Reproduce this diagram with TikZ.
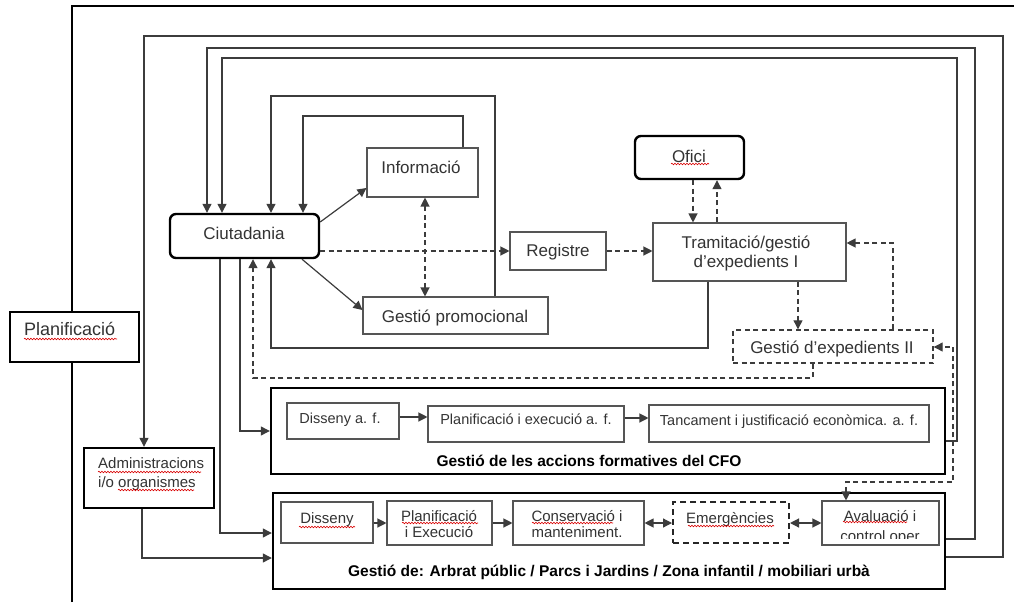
\documentclass[tikz,border=0pt]{standalone}
\usepackage{fontspec}
\setmainfont{Liberation Sans}
\usetikzlibrary{arrows.meta,decorations.pathmorphing,calc}
\definecolor{txt}{HTML}{333333}
\definecolor{bord}{HTML}{555555}
\definecolor{ln}{HTML}{3C3C3C}
\newcommand\fsz[1]{\fontsize{#1}{#1}\selectfont}
\newcommand\bx[6]{\node[#6, minimum width={(#4)-(#2)}, minimum height={(#5)-(#3)}] (#1) at ({((#2)+(#4))/2},{((#3)+(#5))/2}) {};}
\begin{document}
\begin{tikzpicture}[x=1pt,y=-1pt,
 thinbox/.style={draw=bord,line width=1.1pt,fill=white,inner sep=0pt},
 thickbox/.style={draw=black,line width=2.4pt,fill=white,inner sep=0pt},
 roundbox/.style={thickbox,rounded corners=6pt},
 dashbox/.style={thinbox,draw=ln,line width=1.4pt,dash pattern=on 5pt off 3.5pt},
 emerbox/.style={thinbox,draw=black!85,line width=2pt,dash pattern=on 6pt off 4pt},
 lbl/.style={anchor=base,inner sep=0pt,text=txt,font=\fsz{17}},
 lbls/.style={lbl,font=\fsz{14.5}},
 lblm/.style={lbl,font=\fsz{15}},
 lblb/.style={lbl,text=black,font=\fsz{15.5}\bfseries},
 conn/.style={draw=ln,line width=1.2pt},
 arr/.style={conn,-{Triangle[length=9pt,width=9pt]}},
 darr/.style={arr,dash pattern=on 5pt off 3.5pt},
 dbl/.style={conn,{Triangle[length=9pt,width=9pt]}-{Triangle[length=9pt,width=9pt]}},
 ddbl/.style={dbl,dash pattern=on 5pt off 3.5pt},
 frame/.style={draw=black,line width=2.6pt,line join=miter},
 squig/.style={draw=red!85!black,line width=0.6pt,decorate,decoration={snake,amplitude=0.8pt,segment length=3pt}}]
\useasboundingbox (0,0) rectangle (1014,602);

% outer frame
\draw[frame] (72,602) -- (72,6) -- (1014,6);

% boxes
\bx{plan}{10}{312}{139}{362}{thickbox}
\bx{ciut}{170}{214}{319}{258}{roundbox}
\bx{info}{367}{148}{478}{197}{thinbox}
\bx{gprom}{363}{297}{548}{334}{thinbox}
\bx{reg}{510}{232}{606}{270}{thinbox}
\bx{ofici}{635}{136}{744}{179}{roundbox}
\bx{tram}{653}{223}{846}{281}{thinbox}
\bx{gest2}{733}{330}{933}{363}{dashbox}
\bx{admin}{84}{448}{214}{508}{thickbox}
\bx{cfo}{271}{388}{945}{474}{thickbox}
\bx{dis1}{287}{403}{399}{439}{thinbox}
\bx{pla1}{428}{406}{624}{442}{thinbox}
\bx{tanc}{649}{405}{929}{442}{thinbox}
\bx{gbot}{273}{493}{945}{589}{thickbox}
\bx{dis2}{281}{502}{373}{543}{thinbox}
\bx{pla2}{387}{501}{492}{545}{thinbox}
\bx{cons}{513}{501}{644}{545}{thinbox}
\bx{emer}{673}{502}{789}{543}{emerbox}
\bx{aval}{822}{501}{939}{545}{thinbox}

% texts
\node[lbl,anchor=base west,font=\fsz{18}] (t-plan) at (24,335) {Planificació};
\node[lbl] (t-ciut) at (244,239) {Ciutadania};
\node[lbl] (t-info) at (421,173) {Informació};
\node[lbl] (t-gprom) at (455,322) {Gestió promocional};
\node[lbl] (t-reg) at (558,256) {Registre};
\node[lbl] (t-ofici) at (689,162) {Ofici};
\node[lbl] (t-tram1) at (746,248) {Tramitació/gestió};
\node[lbl] (t-tram2) at (746,267) {d’expedients I};
\node[lbl] (t-gest2) at (832,353) {Gestió d’expedients II};
\node[lblm,anchor=base west] (t-adm1) at (98,468) {Administracions};
\node[lblm,anchor=base west] (t-adm2) at (98,487) {i/o organismes};
\node[lbls] (t-dis1) at (340,423) {Disseny a. f.};
\node[lbls] (t-pla1) at (526,424) {Planificació i execució a. f.};
\node[lbls] (t-tanc) at (789,425) {Tancament i justificació econòmica. a. f.};
\node[lblb] (t-cfo) at (589,466) {Gestió de les accions formatives del CFO};
\node[lblm] (t-dis2) at (327,523) {Disseny};
\node[lblm] (t-pla2a) at (439,521) {Planificació};
\node[lblm] (t-pla2b) at (439,537) {i Execució};
\node[lblm] (t-cons1) at (577,521) {Conservació i};
\node[lblm] (t-cons2) at (577,537) {manteniment.};
\node[lblm] (t-emer) at (730,523) {Emergències};
\node[lblm] (t-aval1) at (880,521) {Avaluació i};
\begin{scope}
\clip (822,501) rectangle (939,538);
\node[lblm] (t-aval2) at (880,541) {control oper};
\end{scope}
\node[lblb] (t-gbot) at (609,576) {Gestió de: Arbrat públic / Parcs i Jardins / Zona infantil / mobiliari urbà};

% spell-check underlines
\draw[squig] (24,339) -- (117,339);
\draw[squig] (671,164) -- (709,164);
\draw[squig] (98,472) -- (201,472);
\draw[squig] (118,490) -- (194,490);
\draw[squig] (299,527) -- (355,527);
\draw[squig] (402,523) -- (478,523);
\draw[squig] (532,523) -- (613,523);
\draw[squig] (688,526) -- (774,526);
\draw[squig] (843,522) -- (907,522);

% long feedback loops
\draw[arr] (gbot.east |- 0,557) -| (1003,36) -| (admin.north -| 144,0);
\draw[arr] (gbot.east |- 0,539) -| (975,48) -| (ciut.north -| 207,0);
\draw[arr] (cfo.east |- 0,441) -| (957,58) -| (ciut.north -| 222,0);
\draw[arr] (gprom.north -| 495,0) |- (271,96) -- (ciut.north -| 271,0);
\draw[arr] (info.north -| 463,0) |- (303,116) -- (ciut.north -| 303,0);
\draw[arr] (tram.south -| 708,0) |- (271,348) -- (ciut.south -| 271,0);
\draw[darr] (gest2.south -| 813,0) |- (253,378) -- (ciut.south -| 253,0);

% from Ciutadania / Administracions down
\draw[arr] (ciut.south -| 220,0) |- (gbot.west |- 0,533);
\draw[arr] (ciut.south -| 240,0) |- (cfo.west |- 0,431);
\draw[arr] (admin.south -| 142,0) |- (gbot.west |- 0,558);

% upper flow
\draw[arr] (ciut.east |- 0,222) -- (info.west |- 0,188);
\draw[arr] (ciut.south -| 302,0) -- (gprom.west |- 0,310);
\draw[darr] (ciut.east |- 0,251) -- (reg.west |- 0,251);
\draw[darr] (reg.east |- 0,251) -- (tram.west |- 0,251);
\draw[ddbl] (info.south -| 425,0) -- (gprom.north -| 425,0);
\draw[darr] (ofici.south -| 693,0) -- (tram.north -| 693,0);
\draw[darr] (tram.north -| 717,0) -- (ofici.south -| 717,0);
\draw[darr] (tram.south -| 798,0) -- (gest2.north -| 798,0);
\draw[darr] (gest2.north -| 893,0) |- (tram.east |- 0,243);
\draw[ddbl] (aval.north -| 846,0) |- (953,482) |- (gest2.east |- 0,347);

% inner chains
\draw[arr] (dis1.east |- 0,417) -- (pla1.west |- 0,417);
\draw[arr] (pla1.east |- 0,418) -- (tanc.west |- 0,418);
\draw[arr] (dis2.east |- 0,523) -- (pla2.west |- 0,523);
\draw[arr] (pla2.east |- 0,523) -- (cons.west |- 0,523);
\draw[dbl] (cons.east |- 0,523) -- (emer.west |- 0,523);
\draw[dbl] (emer.east |- 0,523) -- (aval.west |- 0,523);
\end{tikzpicture}
\end{document}
